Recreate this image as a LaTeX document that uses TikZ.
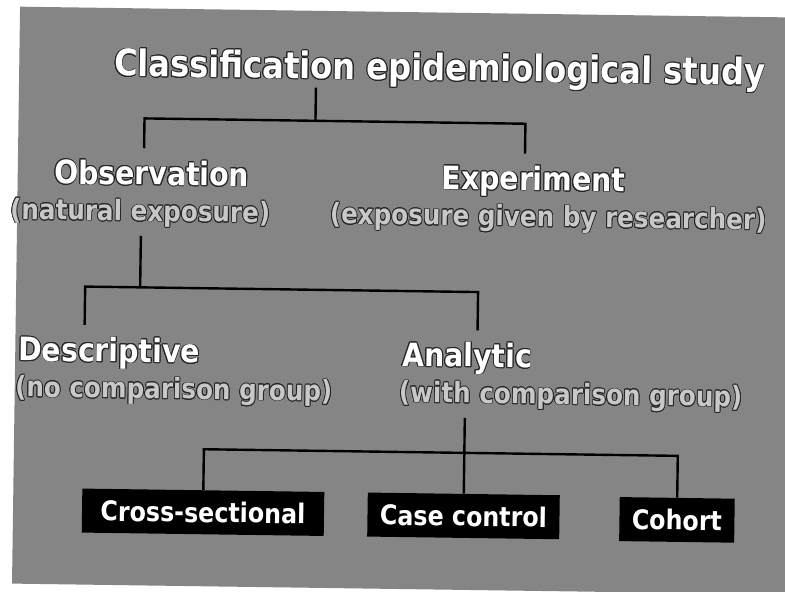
\documentclass[tikz,border=0pt]{standalone}
\usepackage{fontspec}
\usepackage{contour}
\contournumber{16}
\contourlength{0.8pt}
\newfontfamily\headfont{DejaVu Sans}[FakeStretch=0.88]
\definecolor{slidegray}{HTML}{858585}
\definecolor{subfill}{HTML}{C8C8C8}
\definecolor{shade}{HTML}{262626}
\tikzset{
  titletext/.style={font={\headfont\bfseries\fontsize{36.5}{40}\selectfont}, text=white, inner sep=0pt, anchor=base},
  headtext/.style={font={\headfont\bfseries\fontsize{32.2}{36}\selectfont}, text=white, inner xsep=0pt, inner ysep=12pt, anchor=base},
  subtext/.style={font={\headfont\bfseries\fontsize{28}{32}\selectfont}, text=subfill, inner xsep=0pt, inner ysep=8pt, anchor=base},
  leafbox/.style={fill=black, text=white, font={\headfont\bfseries\fontsize{27}{30}\selectfont}, minimum height=44pt, inner sep=0pt},
  conn/.style={line width=2.4pt, draw=black}
}
\begin{document}
\begin{tikzpicture}[x=1pt,y=-1pt]
\useasboundingbox (0,0) rectangle (785,592);
\clip (0,0) rectangle (785,592);
\fill[white] (0,0) rectangle (785,592);
\begin{scope}[rotate around={-0.8:(400,300)}, transform shape]
\fill[slidegray] (16,12) rectangle (830,589);

% texts
\node[titletext] (t) at (436.5,80) {\contour{shade}{Classification epidemiological study}};
\node[headtext] (obs) at (150,188.5) {\contour{shade}{Observation}};
\node[headtext] (exp) at (532,188.5) {\contour{shade}{Experiment}};
\node[subtext] (natsub) at (139,224.6) {\contour{shade}{(natural exposure)}};
\node[subtext] (expsub) at (547,224.6) {\contour{shade}{(exposure given by researcher)}};
\node[headtext] (desc) at (110,366) {\contour{shade}{Descriptive}};
\node[headtext] (ana) at (468,366) {\contour{shade}{Analytic}};
\node[subtext] (descsub) at (175,402) {\contour{shade}{(no comparison group)}};
\node[subtext] (anasub) at (572,402) {\contour{shade}{(with comparison group)}};

% leaf boxes
\node[leafbox, minimum width=242pt] (cs) at (206,515) {Cross-sectional};
\node[leafbox, minimum width=192pt] (cc) at (466.5,515) {Case control};
\node[leafbox, minimum width=115pt] (coh) at (680,516) {Cohort};

% junctions
\coordinate (j1) at (313,122);
\coordinate (a1) at (142,122);
\coordinate (b1) at (523,122);
\coordinate (j2) at (140,291);
\coordinate (a2) at (85,291);
\coordinate (b2) at (478,291);
\coordinate (j3) at (466.5,452);
\coordinate (a3) at (206,452);
\coordinate (b3) at (680,452);

% connectors
\draw[conn] (t.south -| j1) -- (j1);
\draw[conn] (obs.north -| a1) -- (a1) -- (b1) -- (exp.north -| b1);
\draw[conn] (natsub.south -| j2) -- (j2);
\draw[conn] (desc.north -| a2) -- (a2) -- (b2) -- (ana.north -| b2);
\draw[conn] (anasub.south -| j3) -- (j3);
\draw[conn] (cs.north) -- (a3) -- (b3) -- (coh.north);
\draw[conn] (j3) -- (cc.north);
\end{scope}
\end{tikzpicture}
\end{document}
